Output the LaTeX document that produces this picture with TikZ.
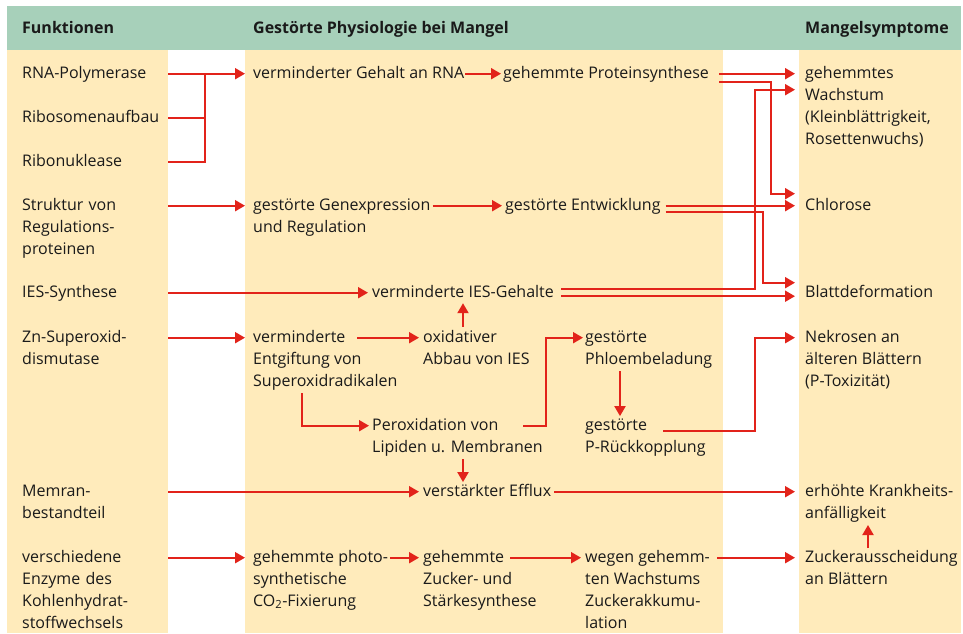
\documentclass[tikz,border=0pt]{standalone}
\usepackage{fontspec}
\setmainfont{Open Sans}
\usepackage{tikz}
\usetikzlibrary{arrows.meta}

\definecolor{headgreen}{HTML}{A7D0BA}
\definecolor{colyellow}{HTML}{FFEBBB}
\definecolor{arrowred}{HTML}{E2231A}
\definecolor{textgray}{HTML}{1A1A1A}

\begin{document}
\begin{tikzpicture}[x=1pt, y=-1pt,
    txt/.style   = {anchor=north west, yshift=15.4pt, inner sep=0pt, align=left,
                    font=\fontsize{16}{22}\selectfont, text=textgray,
                    execute at begin node=\strut},
    fkt/.style   = {txt, text width=146pt},
    head/.style  = {txt, font=\fontsize{16}{22}\selectfont\bfseries},
    conn/.style  = {draw=arrowred, line width=2pt},
    arrow/.style = {conn, -{Triangle[length=10pt, width=11pt]}},
    onx/.style   = {yshift=-11.1pt}]

    % Background
    \useasboundingbox (0,0) rectangle (963,633);
    \fill [headgreen] (7,6) rectangle (961,50);
    \fill [colyellow] (7,50) rectangle (168,633);
    \fill [colyellow] (245,50) rectangle (723,633);
    \fill [colyellow] (799,50) rectangle (961,633);

    % Headings
    \node [head] (hfunk)  at (22,33)  {Funktionen};
    \node [head] (hphys)  at (253,33) {Gestörte Physiologie bei Mangel};
    \node [head] (hsympt) at (805,33) {Mangelsymptome};

    % Funktionen
    \node [fkt] (rnapol)  at (22,78)  {RNA-Polymerase};
    \node [fkt] (ribosom) at (22,122) {Ribosomenaufbau};
    \node [fkt] (ribonuk) at (22,166) {Ribonuklease};
    \node [fkt] (regprot) at (22,210) {Struktur von\\Regulations-\\proteinen};
    \node [fkt] (iessyn)  at (22,297) {IES-Synthese};
    \node [fkt] (sod)     at (22,342) {Zn-Superoxid-\\dismutase};
    \node [fkt] (membran) at (22,496) {Memran-\\bestandteil};
    \node [fkt] (enzyme)  at (22,562) {verschiedene\\Enzyme des\\Kohlenhydrat-\\stoffwechsels};

    % Gestoerte Physiologie
    \node [txt] (rna)     at (253,78)  {verminderter Gehalt an RNA};
    \node [txt] (protein) at (503,78)  {gehemmte Proteinsynthese};
    \node [txt] (genexp)  at (253,210) {\strut gestörte Genexpression\\und Regulation};
    \node [txt] (entw)    at (505,210) {gestörte Entwicklung};
    \node [txt] (iesgeh)  at (372,297) {verminderte IES-Gehalte};
    \node [txt] (entgift) at (253,342) {\strut verminderte\\Entgiftung von\\Superoxidradikalen};
    \node [txt] (oxabbau) at (423,342) {\strut oxidativer\\Abbau von IES};
    \node [txt] (phloem)  at (585,342) {\strut gestörte\\Phloembeladung};
    \node [txt] (perox)   at (372,430) {\strut Peroxidation von\\Lipiden u. Membranen};
    \node [txt] (prueck)  at (585,430) {\strut gestörte\\P-Rückkopplung};
    \node [txt] (efflux)  at (423,496) {verstärkter Efflux};
    \node [txt] (photo)   at (253,562) {\strut gehemmte photo-\\synthetische\\CO\textsubscript{2}-Fixierung};
    \node [txt] (staerke) at (423,562) {\strut gehemmte\\Zucker- und\\Stärkesynthese};
    \node [txt] (zuckakk) at (585,562) {\strut wegen gehemm-\\ten Wachstums\\Zuckerakkumu-\\lation};

    % Mangelsymptome
    \node [txt] (wachstum) at (805,78)  {\strut gehemmtes\\Wachstum\\(Kleinblättrigkeit,\\Rosettenwuchs)};
    \node [txt] (chlorose) at (805,210) {Chlorose};
    \node [txt] (blatt)    at (805,297) {Blattdeformation};
    \node [txt] (nekrose)  at (805,342) {\strut Nekrosen an\\älteren Blättern\\(P-Toxizität)};
    \node [txt] (krank)    at (805,496) {\strut erhöhte Krankheits-\\anfälligkeit};
    \node [txt] (zuckaus)  at (805,562) {\strut Zuckerausscheidung\\an Blättern};

    % Connections
    \draw [arrow] ([onx]rnapol.north east) -- ([onx,xshift=-8pt]rna.north west);
    \draw [conn] ([onx]ribosom.north east) -- ++(37,0);
    \draw [conn] ([onx]ribonuk.north east) -- ++(37,0) -- ([onx,xshift=37pt]rnapol.north east);
    \draw [arrow] ([onx,xshift=1pt]rna.north east) -- ([onx,xshift=-2pt]protein.north west);
    \draw [arrow] ([onx,xshift=10pt]protein.north east) -- ([onx,xshift=-10pt]wachstum.north west);
    \draw [arrow] ([onx,xshift=10pt,yshift=-8pt]protein.north east) -| (771,150) |- ([onx,xshift=-10pt,yshift=12pt]chlorose.north west);
    \draw [arrow] ([onx]regprot.north east) -- ([onx,xshift=-8pt]genexp.north west);
    \draw [arrow] ([onx,xshift=2pt]genexp.north east) -- ([onx,xshift=-3pt]entw.north west);
    \draw [arrow] ([onx,xshift=5pt]entw.north east) -- ([onx,xshift=-10pt]chlorose.north west);
    \draw [arrow] ([onx,xshift=5pt,yshift=-6pt]entw.north east) -| (763,250) |- ([onx,xshift=-10pt,yshift=10pt]blatt.north west);
    \draw [arrow] ([onx]iessyn.north east) -- ([onx,xshift=-4pt]iesgeh.north west);
    \draw [arrow] ([onx,xshift=7pt,yshift=3.5pt]iesgeh.north east) -| (755,200) |- ([onx,xshift=-10pt,yshift=-16pt]wachstum.north west);
    \draw [arrow] ([onx,xshift=7pt,yshift=-3.5pt]iesgeh.north east) -- ([onx,xshift=-10pt,yshift=-3.5pt]blatt.north west);
    \draw [arrow] ([onx]sod.north east) -- ([onx,xshift=-8pt]entgift.north west);
    \draw [arrow] ([onx,xshift=104pt]entgift.north west) -- ([onx,xshift=-4pt]oxabbau.north west);
    \draw [arrow] ([xshift=40pt]oxabbau.north west) -- ([xshift=40pt,yshift=-6pt]oxabbau.north west |- iesgeh.base);
    \draw [arrow] ([xshift=49pt]entgift.south west) |- ([onx,xshift=-3pt]perox.north west);
    \draw [arrow] ([onx,xshift=151pt]perox.north west) -| (546,380) |- ([onx,xshift=-2pt]phloem.north west);
    \draw [arrow] ([xshift=91pt]perox.south west) -- ([xshift=91pt,yshift=-1.5pt]perox.south west |- efflux.north);
    \draw [arrow] ([xshift=35pt]phloem.south west) -- ([xshift=35pt,yshift=-1.5pt]phloem.south west |- prueck.north);
    \draw [arrow] ([onx,xshift=78pt,yshift=-5pt]prueck.north west) -| (755,380) |- ([onx,xshift=-10pt]nekrose.north west);
    \draw [arrow] ([onx]membran.north east) -- ([onx,xshift=-4pt]efflux.north west);
    \draw [arrow] ([onx,xshift=3pt]efflux.north east) -- ([onx,xshift=-10pt]krank.north west);
    \draw [arrow] ([onx]enzyme.north east) -- ([onx,xshift=-8pt]photo.north west);
    \draw [arrow] ([onx,xshift=2pt]photo.north east) -- ([onx,xshift=-4pt]staerke.north west);
    \draw [arrow] ([onx,xshift=87pt]staerke.north west) -- ([onx,xshift=-4pt]zuckakk.north west);
    \draw [arrow] ([onx,xshift=7pt]zuckakk.north east) -- ([onx,xshift=-10pt]zuckaus.north west);
    \draw [arrow] ([xshift=63pt,yshift=-1.5pt]zuckaus.north west) -- ([xshift=63pt]zuckaus.north west |- krank.south);
\end{tikzpicture}
\end{document}
